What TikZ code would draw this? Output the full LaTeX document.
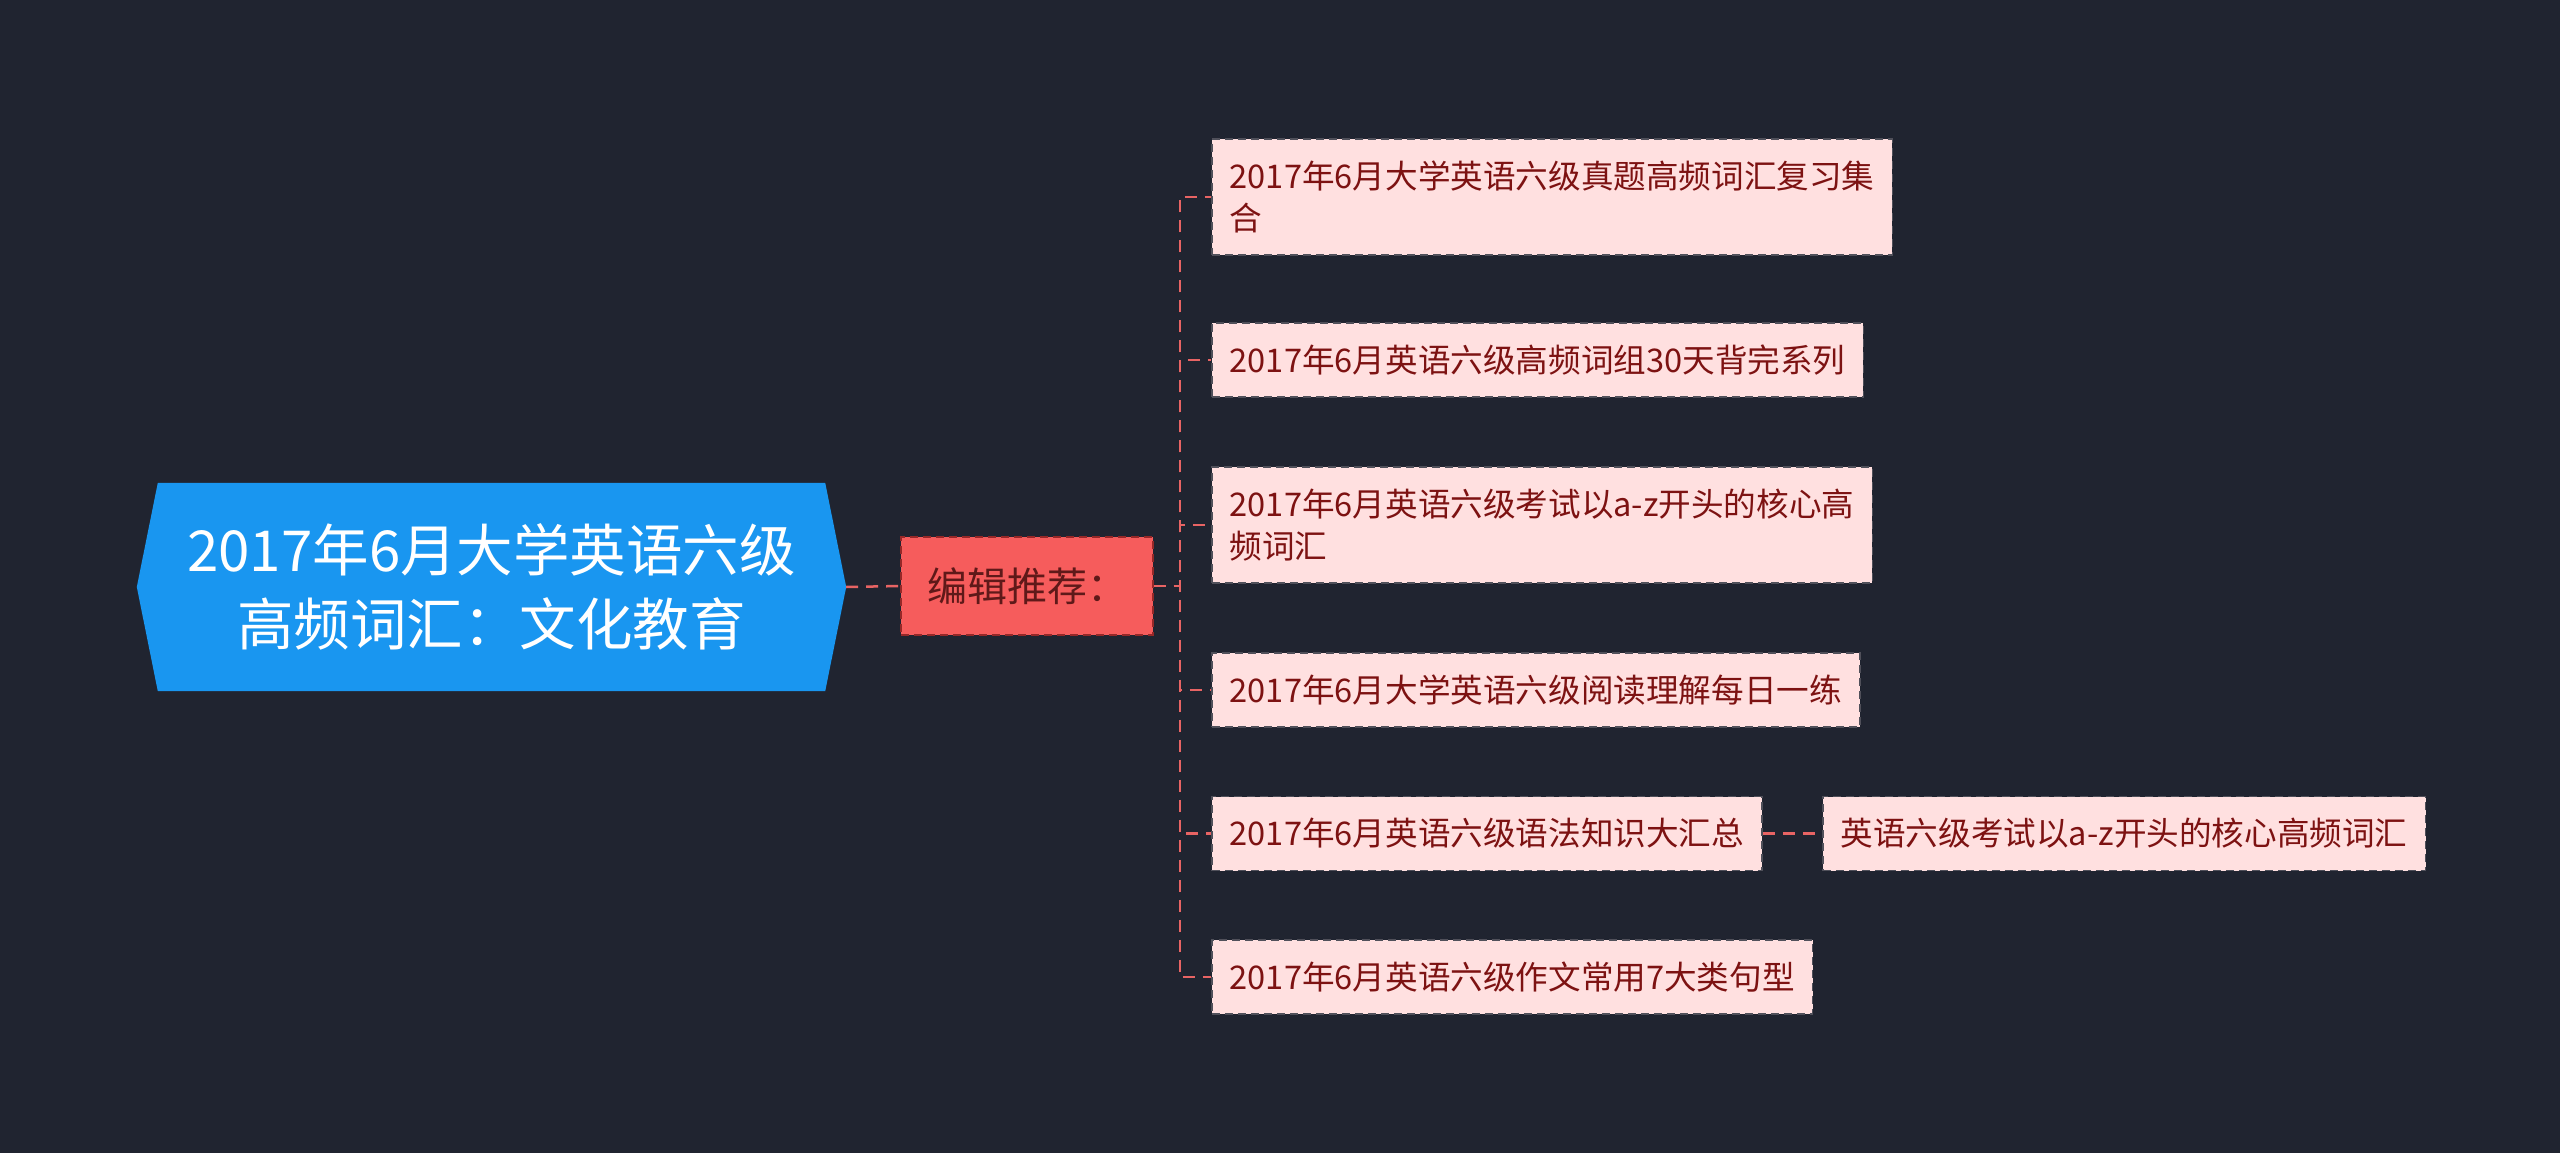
\documentclass[tikz,border=0pt]{standalone}
\usepackage{fontspec}
\setmainfont{Noto Sans CJK SC}
\usetikzlibrary{backgrounds}
\pgfdeclarelayer{canvas}
\pgfsetlayers{canvas,background,main}
\definecolor{bgc}{RGB}{32,36,48}
\definecolor{rootc}{RGB}{25,150,240}
\definecolor{midc}{RGB}{246,92,92}
\definecolor{midb}{RGB}{150,40,40}
\definecolor{midt}{RGB}{95,25,25}
\definecolor{leafc}{RGB}{255,224,224}
\definecolor{leafb}{RGB}{80,80,90}
\definecolor{leaft}{RGB}{125,18,18}
\definecolor{linec}{RGB}{232,100,100}
\tikzset{
  rootbox/.style={inner sep=0pt, minimum width=709pt, minimum height=208pt, align=center,
    text=white, font=\fontsize{56.5}{74}\selectfont},
  midbox/.style={fill=midc, draw=midb, dash pattern=on 8pt off 5pt, line width=1.5pt, minimum width=252pt,
    minimum height=98pt, inner sep=0pt, text=midt, font=\fontsize{40}{46}\selectfont},
  leafbox/.style={fill=leafc, draw=leafb, dash pattern=on 8pt off 5pt, line width=1.5pt, anchor=west,
    inner xsep=18pt, inner ysep=0pt, minimum height=74pt, align=left, text=leaft,
    font=\fontsize{32.6}{42}\selectfont},
  conn/.style={draw=linec, line width=2.5pt, dash pattern=on 12pt off 8pt},
}
\begin{document}
\begin{tikzpicture}[x=1pt,y=-1pt]
\begin{pgfonlayer}{canvas}
\fill[bgc] (0,0) rectangle (2560,1153);
\end{pgfonlayer}
\useasboundingbox (0,0) rectangle (2560,1153);

\node[rootbox] (root) at (491.5,587) {2017年6月大学英语六级\\高频词汇：文化教育};
\begin{pgfonlayer}{background}
\fill[rootc] (root.west) -- ([xshift=21pt]root.north west) -- ([xshift=-21pt]root.north east)
  -- (root.east) -- ([xshift=-21pt]root.south east) -- ([xshift=21pt]root.south west) -- cycle;
\end{pgfonlayer}

\node[midbox] (mid) at (1027,586) {编辑推荐：};

\node[leafbox, minimum height=116pt] (l1) at (1211,197) {2017年6月大学英语六级真题高频词汇复习集\\合};
\node[leafbox] (l2) at (1211,360) {2017年6月英语六级高频词组30天背完系列};
\node[leafbox, minimum height=116pt] (l3) at (1211,525) {2017年6月英语六级考试以a-z开头的核心高\\频词汇};
\node[leafbox] (l4) at (1211,690) {2017年6月大学英语六级阅读理解每日一练};
\node[leafbox] (l5) at (1211,833.5) {2017年6月英语六级语法知识大汇总};
\node[leafbox] (c5) at (1822,833.5) {英语六级考试以a-z开头的核心高频词汇};
\node[leafbox] (l6) at (1211,977) {2017年6月英语六级作文常用7大类句型};

\coordinate (trunk) at (1180,586);
\begin{pgfonlayer}{background}
\draw[conn] (root.east) -- (mid.west);
\foreach \n in {l1,l2,l3,l4,l5,l6}{
  \draw[conn] (mid.east) -- (trunk) |- (\n.west);
}
\draw[conn] (l5.east) -- (c5.west);
\end{pgfonlayer}
\end{tikzpicture}
\end{document}
